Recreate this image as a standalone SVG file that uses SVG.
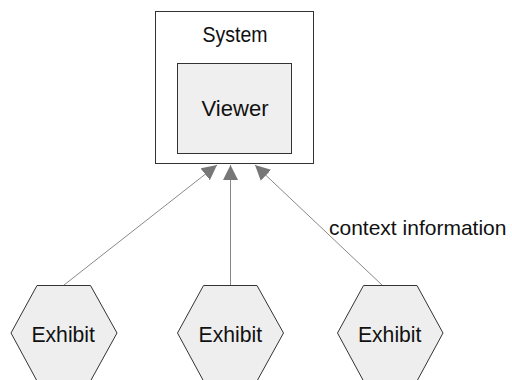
<svg xmlns="http://www.w3.org/2000/svg" width="512" height="380" viewBox="0 0 512 380">
  <style>
    .label { font-family: "Liberation Sans", Arial, sans-serif; font-size: 22px; fill: #111; text-anchor: middle; }
    .note { font-family: "Liberation Sans", Arial, sans-serif; font-size: 21px; fill: #111; }
    .box { stroke: #333; stroke-width: 1; }
    .hex { fill: #eeeeee; stroke: #333; stroke-width: 1; }
    .link { stroke: #888; stroke-width: 1; fill: none; marker-end: url(#head); }
  </style>
  <defs>
    <marker id="head" markerUnits="userSpaceOnUse" markerWidth="16" markerHeight="16" viewBox="0 0 16 16" refX="15" refY="7.5" orient="auto">
      <path d="M0,0 L15,7.5 L0,15 Z" fill="#777"/>
    </marker>
  </defs>

  <g id="system">
    <rect class="box" x="155.5" y="11.5" width="158" height="152" fill="#ffffff"/>
    <text class="label" x="235" y="42" textLength="65" lengthAdjust="spacingAndGlyphs">System</text>
  </g>

  <g id="viewer">
    <rect class="box" x="177.5" y="63.5" width="114" height="90" fill="#efefef"/>
    <text class="label" x="235" y="115.5" textLength="67" lengthAdjust="spacingAndGlyphs">Viewer</text>
  </g>

  <g id="connectors">
    <line class="link" x1="64" y1="285" x2="217" y2="165"/>
    <line class="link" x1="230.5" y1="285" x2="230.5" y2="165"/>
    <line class="link" x1="382" y1="285" x2="255" y2="165"/>
    <text class="note" x="329" y="235">context information</text>
  </g>

  <g id="exhibit1">
    <polygon class="hex" points="37,285.5 90.5,285.5 117,333 90.5,381 37,381 11,333"/>
    <text class="label" x="63.2" y="341.5" textLength="63.5" lengthAdjust="spacingAndGlyphs">Exhibit</text>
  </g>

  <g id="exhibit2">
    <polygon class="hex" points="203.5,285.5 257,285.5 283.5,333 257,381 203.5,381 177.5,333"/>
    <text class="label" x="230.3" y="341.5" textLength="63.5" lengthAdjust="spacingAndGlyphs">Exhibit</text>
  </g>

  <g id="exhibit3">
    <polygon class="hex" points="363.5,285.5 417,285.5 443,333 417,381 363.5,381 337.5,333"/>
    <text class="label" x="389.7" y="341.5" textLength="63.5" lengthAdjust="spacingAndGlyphs">Exhibit</text>
  </g>
</svg>
